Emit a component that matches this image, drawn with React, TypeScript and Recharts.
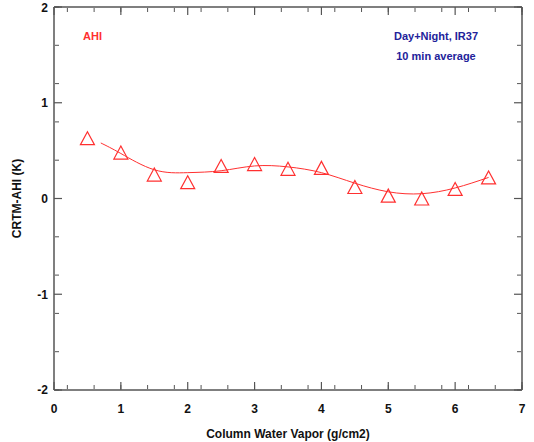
import { ComposedChart, Scatter, Line, XAxis, YAxis } from 'recharts'

const vapor = [0.5, 1, 1.5, 2, 2.5, 3, 3.5, 4, 4.5, 5, 5.5, 6, 6.5]
const bias = [0.63, 0.48, 0.25, 0.17, 0.34, 0.36, 0.31, 0.32, 0.12, 0.03, 0.0, 0.1, 0.22]

const fitVapor = [0.7, 1, 1.5, 2, 2.5, 3, 3.5, 4, 4.5, 5, 5.5, 6, 6.5]
const fitBias = [0.58, 0.47, 0.3, 0.27, 0.29, 0.34, 0.33, 0.27, 0.16, 0.07, 0.05, 0.11, 0.22]

const xTicks = [0, 1, 2, 3, 4, 5, 6, 7]
const yTicks = [-2, -1, 0, 1, 2]
const xMinor = Array.from({ length: 36 }, (_, i) => Math.round(i * 2) / 10)
const yMinor = Array.from({ length: 21 }, (_, i) => Math.round(-20 + i * 2) / 10)

const points = vapor.map((x, i) => ({ x, y: bias[i] }))
const fit = fitVapor.map((x, i) => ({ x, y: fitBias[i] }))
const empty: { x: number; y: number }[] = []

const RED = '#ff3030'
const AXIS = '#555'
const FONT = '"Liberation Sans", Arial, sans-serif'

const Triangle = (p: any) => {
  const { cx, cy } = p
  return (
    <polygon
      points={`${cx},${cy - 6.5} ${cx - 7},${cy + 6.5} ${cx + 7},${cy + 6.5}`}
      fill="none"
      stroke={RED}
      strokeWidth={1.2}
    />
  )
}

const NoLabel = () => <g />

const tickStyle = { fontSize: 12, fontWeight: 'bold', fill: '#111', fontFamily: FONT }

// x/y axis pairs that only draw inward tick marks (and the top/right frame)
const markAxes = [
  { id: 'b1', xo: 'bottom', yo: 'left', xt: xTicks, yt: yTicks, size: 8, frame: false },
  { id: 't1', xo: 'top', yo: 'right', xt: xTicks, yt: yTicks, size: 8, frame: true },
  { id: 'b2', xo: 'bottom', yo: 'left', xt: xMinor, yt: yMinor, size: 4, frame: false },
  { id: 't2', xo: 'top', yo: 'right', xt: xMinor, yt: yMinor, size: 4, frame: false },
]

export default function App() {
  return (
    <div style={{ position: 'absolute', left: 0, top: 0, width: 534, height: 442, fontFamily: FONT }}>
      <ComposedChart width={534} height={442} margin={{ top: 7, right: 12, left: 0, bottom: 0 }}>
        <XAxis
          xAxisId="x" type="number" dataKey="x" domain={[0, 7]} ticks={xTicks} allowDataOverflow
          height={52} tickLine={false} tickSize={0} tickMargin={14}
          axisLine={{ stroke: AXIS, strokeWidth: 1.5 }} tick={tickStyle}
          label={{ value: 'Column Water Vapor (g/cm2)', position: 'insideBottom', offset: 4, style: { fontSize: 12, fontWeight: 'bold', fill: '#111', fontFamily: FONT } }}
        />
        <YAxis
          yAxisId="y" type="number" domain={[-2, 2]} ticks={yTicks} allowDataOverflow
          width={54} tickLine={false} tickSize={0} tickMargin={6}
          axisLine={{ stroke: AXIS, strokeWidth: 1.5 }} tick={tickStyle}
          label={{ value: 'CRTM-AHI (K)', angle: -90, position: 'center', dx: -10, style: { fontSize: 12, fontWeight: 'bold', fill: '#111', fontFamily: FONT } }}
        />
        {markAxes.map((a) => [
          <XAxis
            key={'x' + a.id} xAxisId={'x' + a.id} type="number" dataKey="x" domain={[0, 7]} ticks={a.xt}
            orientation={a.xo as any} mirror height={1} tick={NoLabel} tickSize={a.size} allowDataOverflow
            axisLine={a.frame ? { stroke: AXIS, strokeWidth: 1.5 } : false}
            tickLine={{ stroke: AXIS, strokeWidth: a.size > 5 ? 1.2 : 1 }}
          />,
          <YAxis
            key={'y' + a.id} yAxisId={'y' + a.id} type="number" dataKey="y" domain={[-2, 2]} ticks={a.yt}
            orientation={a.yo as any} mirror width={1} tick={NoLabel} tickSize={a.size} allowDataOverflow
            axisLine={a.frame ? { stroke: AXIS, strokeWidth: 1.5 } : false}
            tickLine={{ stroke: AXIS, strokeWidth: a.size > 5 ? 1.2 : 1 }}
          />,
          <Scatter
            key={'s' + a.id} xAxisId={'x' + a.id} yAxisId={'y' + a.id} data={empty} dataKey="y"
            isAnimationActive={false} legendType="none"
          />,
        ])}

        <Line
          xAxisId="x" yAxisId="y" data={fit} dataKey="y" type="natural"
          stroke={RED} strokeWidth={1} dot={false} isAnimationActive={false}
        />
        <Scatter
          xAxisId="x" yAxisId="y" data={points} dataKey="y"
          shape={Triangle} isAnimationActive={false}
        />
      </ComposedChart>
      <div style={{ position: 'absolute', left: 83, top: 30, fontSize: 11, fontWeight: 'bold', color: RED }}>AHI</div>
      <div style={{ position: 'absolute', left: 386, top: 30, width: 100, textAlign: 'center', fontSize: 11, fontWeight: 'bold', color: '#22229a' }}>Day+Night, IR37</div>
      <div style={{ position: 'absolute', left: 386, top: 50, width: 100, textAlign: 'center', fontSize: 11, fontWeight: 'bold', color: '#22229a' }}>10 min average</div>
    </div>
  )
}
